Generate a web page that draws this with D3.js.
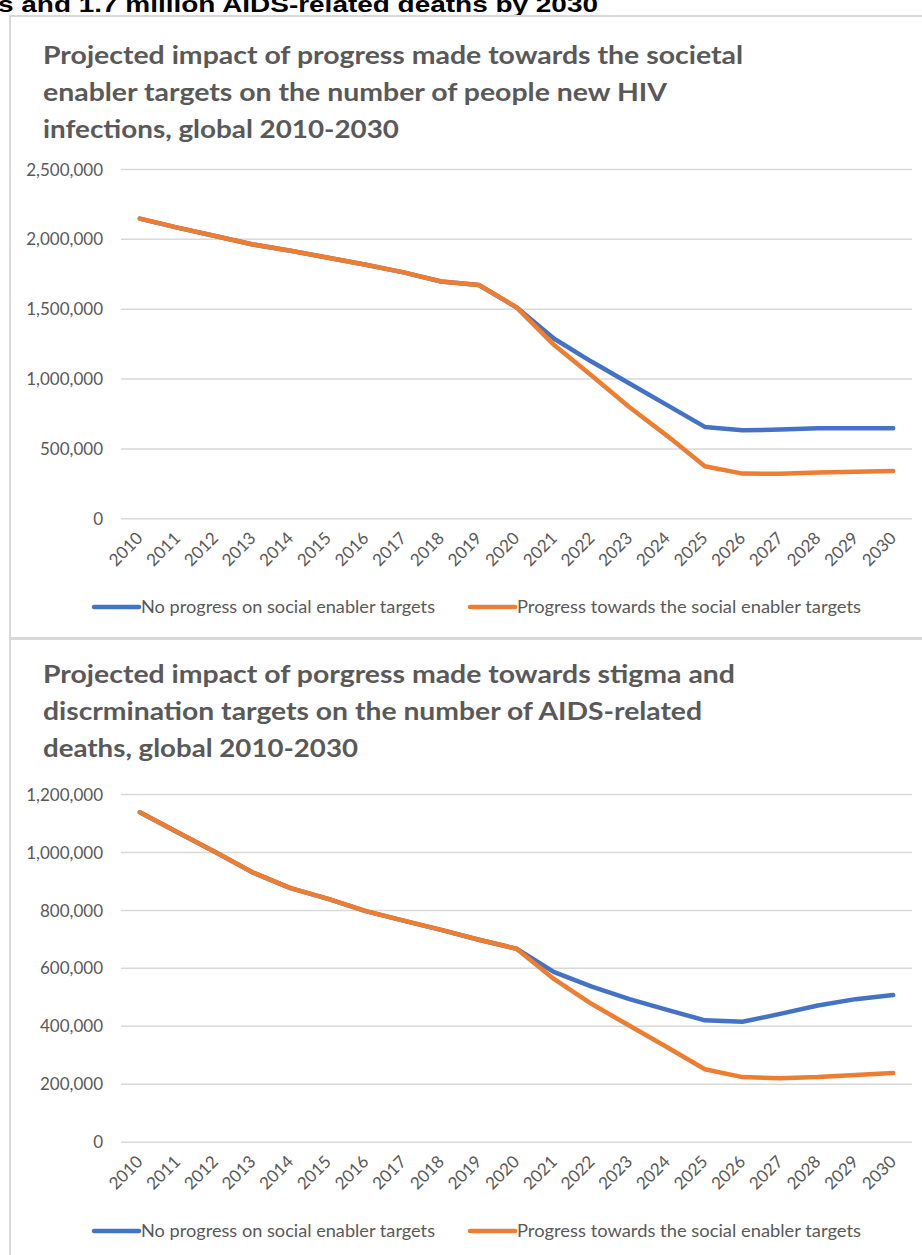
<!DOCTYPE html>
<html>
<head>
<meta charset="utf-8">
<script src="https://cdn.jsdelivr.net/npm/d3@7"></script>
<style>
  html, body { margin: 0; padding: 0; background: #ffffff; }
  svg { display: block; }
</style>
</head>
<body>
<svg id="chart" width="922" height="1255"></svg>
<script>
// ---------- DATA ----------
const years = d3.range(2010, 2031).map(String);

const seriesNames = ["No progress on social enabler targets", "Progress towards the social enabler targets"];

const infectionsNoProgress = [2145000, 2080000, 2020000, 1960000, 1915000, 1865000, 1815000, 1760000, 1695000, 1670000, 1510000,
  1285000, 1120000, 965000, 810000, 654000, 630000, 635000, 645000, 645000, 645000];
const infectionsProgress = [2145000, 2080000, 2020000, 1960000, 1915000, 1865000, 1815000, 1760000, 1695000, 1670000, 1510000,
  1240000, 1020000, 795000, 590000, 372000, 320000, 318000, 327000, 334000, 339000];

const deathsNoProgress = [1137000, 1068000, 1000000, 929000, 875000, 838000, 796000, 763000, 731000, 697000, 666000,
  585000, 535000, 492000, 455000, 419000, 414000, 441000, 470000, 492000, 506000];
const deathsProgress = [1137000, 1068000, 1000000, 929000, 875000, 838000, 796000, 763000, 731000, 697000, 666000,
  561000, 475000, 400000, 326000, 250000, 223000, 219000, 223000, 230000, 237000];

const infectionsTicks = [0, 500000, 1000000, 1500000, 2000000, 2500000];
const deathsTicks = [0, 200000, 400000, 600000, 800000, 1000000, 1200000];

const headerText = "s and 1.7 million AIDS-related deaths by 2030";
const title1 = ["Projected impact of progress made towards the societal",
                "enabler targets on the number of people new HIV",
                "infections, global 2010-2030"];
const title2 = ["Projected impact of porgress made towards stigma and",
                "discrmination targets on the number of AIDS-related",
                "deaths, global 2010-2030"];

// ---------- STYLE ----------
const colors = ["#4472C4", "#ED7D31"];
const textGray = "#595959";
const gridGray = "#d9d9d9";
const tickFont = "Lato, 'Open Sans', sans-serif";

const svg = d3.select("#chart");

// header text (cut off at top, as in the source page)
svg.append("text")
  .attr("x", -2).attr("y", 12)
  .attr("font-family", "'Liberation Sans', Arial, sans-serif")
  .attr("font-weight", "bold")
  .attr("font-size", 22)
  .attr("fill", "#000")
  .attr("textLength", 600)
  .attr("lengthAdjust", "spacingAndGlyphs")
  .text(headerText);

// chart frames
svg.append("rect").attr("x", 10).attr("y", 16).attr("width", 930).attr("height", 622)
  .attr("fill", "none").attr("stroke", gridGray).attr("stroke-width", 2);
svg.append("rect").attr("x", 10).attr("y", 639).attr("width", 930).attr("height", 640)
  .attr("fill", "none").attr("stroke", gridGray).attr("stroke-width", 2);

function drawChart(cfg) {
  const g = svg.append("g");

  // title
  cfg.title.forEach((line, i) => {
    g.append("text")
      .attr("x", 43).attr("y", cfg.titleY[i])
      .attr("font-family", tickFont)
      .attr("font-weight", "bold")
      .attr("font-size", 24)
      .attr("fill", textGray)
      .attr("textLength", cfg.titleW[i])
      .attr("lengthAdjust", "spacingAndGlyphs")
      .text(line);
  });

  const x = d3.scaleBand().domain(years).range([121, 912]).padding(0);
  const y = d3.scaleLinear().domain([0, cfg.max]).range([cfg.y0, cfg.yTop]);

  // y axis with gridlines
  const yAxis = d3.axisLeft(y)
    .tickValues(cfg.ticks)
    .tickSize(-(912 - 121))
    .tickPadding(18)
    .tickFormat(d3.format(","));
  const ya = g.append("g").attr("transform", "translate(121,0)").call(yAxis);
  ya.select(".domain").remove();
  ya.selectAll(".tick line").attr("stroke", gridGray).attr("stroke-width", 1.5);
  ya.selectAll(".tick text")
    .attr("font-family", tickFont).attr("font-size", 17)
    .attr("fill", textGray).attr("dy", "0.36em");

  // x axis labels
  const xAxis = d3.axisBottom(x).tickSize(0).tickPadding(0);
  const xa = g.append("g").attr("transform", `translate(0,${cfg.y0})`).call(xAxis);
  xa.select(".domain").remove();
  xa.selectAll(".tick text")
    .attr("font-family", tickFont).attr("font-size", 17)
    .attr("fill", textGray)
    .attr("text-anchor", "end")
    .attr("dy", null)
    .attr("y", 0)
    .attr("transform", "translate(4,21) rotate(-45)");

  // lines
  const line = d3.line()
    .x((d, i) => x(years[i]) + x.bandwidth() / 2)
    .y(d => y(d));
  cfg.series.forEach((s, i) => {
    g.append("path")
      .datum(s)
      .attr("fill", "none")
      .attr("stroke", colors[i])
      .attr("stroke-width", 4.5)
      .attr("stroke-linejoin", "round")
      .attr("stroke-linecap", "round")
      .attr("d", line);
  });

  // legend
  const legX = [94, 470];
  const legW = [294, 344];
  seriesNames.forEach((name, i) => {
    g.append("line")
      .attr("x1", legX[i]).attr("x2", legX[i] + 45)
      .attr("y1", cfg.legendY).attr("y2", cfg.legendY)
      .attr("stroke", colors[i]).attr("stroke-width", 4.5)
      .attr("stroke-linecap", "round");
    g.append("text")
      .attr("x", legX[i] + 47).attr("y", cfg.legendY)
      .attr("dy", "0.36em")
      .attr("font-family", tickFont).attr("font-size", 17)
      .attr("fill", textGray)
      .attr("textLength", legW[i])
      .attr("lengthAdjust", "spacingAndGlyphs")
      .text(name);
  });
}

drawChart({
  title: title1,
  titleY: [64, 101, 138],
  titleW: [700, 624, 356],
  max: 2500000,
  ticks: infectionsTicks,
  y0: 518.3,
  yTop: 169,
  series: [infectionsNoProgress, infectionsProgress],
  legendY: 607
});

drawChart({
  title: title2,
  titleY: [683, 720, 757],
  titleW: [692, 659, 315],
  max: 1200000,
  ticks: deathsTicks,
  y0: 1141.7,
  yTop: 794,
  series: [deathsNoProgress, deathsProgress],
  legendY: 1231
});
</script>
</body>
</html>
